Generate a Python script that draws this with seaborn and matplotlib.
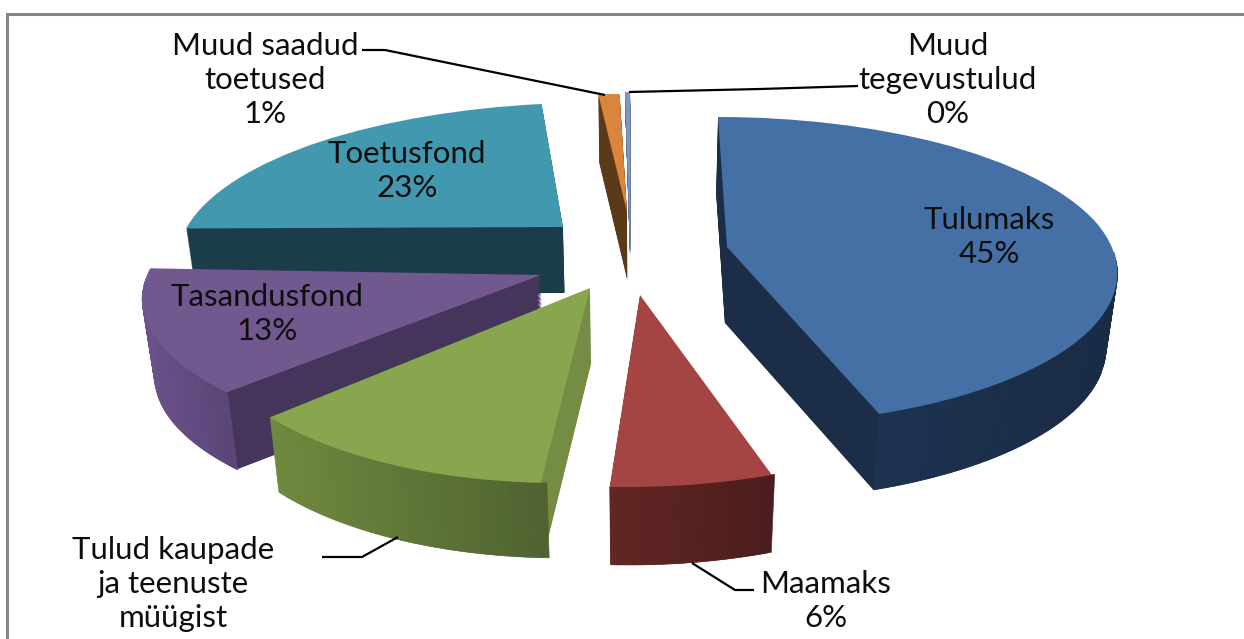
import numpy as np
import matplotlib
matplotlib.use("Agg")
import matplotlib.pyplot as plt
import seaborn as sns
from matplotlib.colors import to_rgb
from matplotlib.transforms import Transform

# Chart data
categories = ["Tulumaks", "Maamaks", "Tulud kaupade\nja teenuste\nmüügist", "Tasandusfond",
              "Toetusfond", "Muud saadud\ntoetused", "Muud\ntegevustulud"]
shares = [44.7, 6, 12, 13, 23, 1, 0.3]

# Colours
top_colors = ["#4570a6", "#a54543", "#89a54e", "#71588f", "#4198af", "#db843d", "#7f97c2"]
side_colors = ["#1b2d47", "#4f1f1e", "#748c44", "#45355a", "#1b3c49", "#5c3a18", "#5f7396"]
wall_colors = [("#1d3350", "#1a2b44"), ("#622624", "#4a1d1c"), ("#70893f", "#4f6130"),
               ("#6c528b", "#5a4577"), None, None, None]

# Where each exploded slice lands on the canvas, in pixels:
# apex x, apex y, width, back height, front height, shear, tilt, depth, draw order
slice_layout = [
    (727, 247, 385, 130, 178, -9, 0, 76, 5),
    (640, 295, 381, 130, 192, 11, 0, 78, 7),
    (590, 288, 378, 130, 195, 30, 0, 75, 6),
    (541, 275, 394, 130, 175, 4, 0, 77, 4),
    (563, 227, 380, 124, 175, 5, -8, 66, 1),
    (627, 212, 400, 118, 175, -1, 0, 68, 2),
    (630, 240, 300, 148, 175, 0, 0, 15, 3),
]
PERSPECTIVE = 0.15
VANISH_X = 640
DEPTH_SHRINK = 0.025 / 78

label_spots = [(989, 237), (826, 601), (173, 584), (267, 314), (407, 171), (265, 80), (948, 80)]
leaders = [
    ([362, 385, 605], [50, 50, 95]),
    ([629, 760, 858], [92, 89, 86]),
    ([322, 362, 398], [557, 557, 537]),
    ([692, 735, 754], [563, 590, 590]),
]


def project(x, y, layout, drop=0):
    ax_x, ax_y, width, back, front, shear, tilt, _, _ = layout
    a = (back + front) / 2
    b = (back - front) / 2
    px = ax_x + width * x * (1 - PERSPECTIVE * y) + shear * y
    py = ax_y - (a * y + b * y * y) + tilt * x + drop
    # the underside pulls in slightly towards the middle of the chart
    px = px + (VANISH_X - px) * DEPTH_SHRINK * drop
    return px, py


class SliceProjection(Transform):
    input_dims = 2
    output_dims = 2
    is_separable = False
    has_inverse = False

    def __init__(self, layout, drop=0):
        super().__init__()
        self.layout = layout
        self.drop = drop

    def transform_non_affine(self, values):
        px, py = project(values[:, 0], values[:, 1], self.layout, self.drop)
        return np.column_stack([px, py])


sns.set_theme(style="white")
plt.rcParams["font.family"] = ["Lato", "DejaVu Sans"]

fig = plt.figure(figsize=(12.44, 6.39), dpi=100, facecolor="white")
ax = fig.add_axes([0, 0, 1, 1])

# 1. Extruded body: the same pie repeated from the bottom up
layers = 60
for step in range(layers, 0, -1):
    wedges, _ = ax.pie(shares, startangle=90, counterclock=False, colors=side_colors,
                       wedgeprops={"linewidth": 0})
    for wedge, layout in zip(wedges, slice_layout):
        drop = layout[7] * step / layers
        wedge.set_transform(SliceProjection(layout, drop) + ax.transData)
        wedge.set_zorder(layout[8] * 10)

# 2. Top faces
wedges, _ = ax.pie(shares, startangle=90, counterclock=False, colors=top_colors,
                   wedgeprops={"linewidth": 0})
for wedge, layout in zip(wedges, slice_layout):
    wedge.set_transform(SliceProjection(layout) + ax.transData)
    wedge.set_zorder(layout[8] * 10 + 2)

# 3. Shaded outer wall on the front facing arcs
for wedge, layout, wall in zip(wedges, slice_layout, wall_colors):
    if wall is None:
        continue
    angles = np.radians(np.arange(wedge.theta1, wedge.theta2 + 1, 1.0))
    angles = angles[np.sin(angles) < -0.02]
    if len(angles) < 2:
        continue
    xs, ys = project(np.cos(angles), np.sin(angles), layout)
    xb, yb = project(np.cos(angles), np.sin(angles), layout, layout[7])
    order = np.argsort(xs)
    xs, ys, xb, yb = xs[order], ys[order], xb[order], yb[order]
    left, right = np.array(to_rgb(wall[0])), np.array(to_rgb(wall[1]))
    for i in range(len(xs) - 1):
        frac = (xs[i] - xs[0]) / (xs[-1] - xs[0])
        ax.fill([xs[i], xs[i + 1], xb[i + 1], xb[i]], [ys[i], ys[i + 1], yb[i + 1], yb[i]],
                color=left + (right - left) * frac, linewidth=0.4,
                zorder=layout[8] * 10 + 1)

# Leader lines and frame
for lx, ly in leaders:
    ax.plot(lx, ly, color="black", lw=1.6, zorder=100, solid_capstyle="butt")
ax.plot([7, 7, 1244], [639, 14, 14], color="#868686", lw=2.2, zorder=101,
        solid_joinstyle="miter")

# Labels
for name, share, (tx, ty) in zip(categories, shares, label_spots):
    text = name if "kaupade" in name else f"{name}\n{round(share)}%"
    ax.text(tx, ty, text, ha="center", va="center", fontsize=22.5, color="#0d0d0d",
            linespacing=1.27, zorder=110)

ax.set_aspect("auto")
ax.set_xlim(0, 1244)
ax.set_ylim(639, 0)
ax.axis("off")

fig.savefig("out.png", dpi=100)
